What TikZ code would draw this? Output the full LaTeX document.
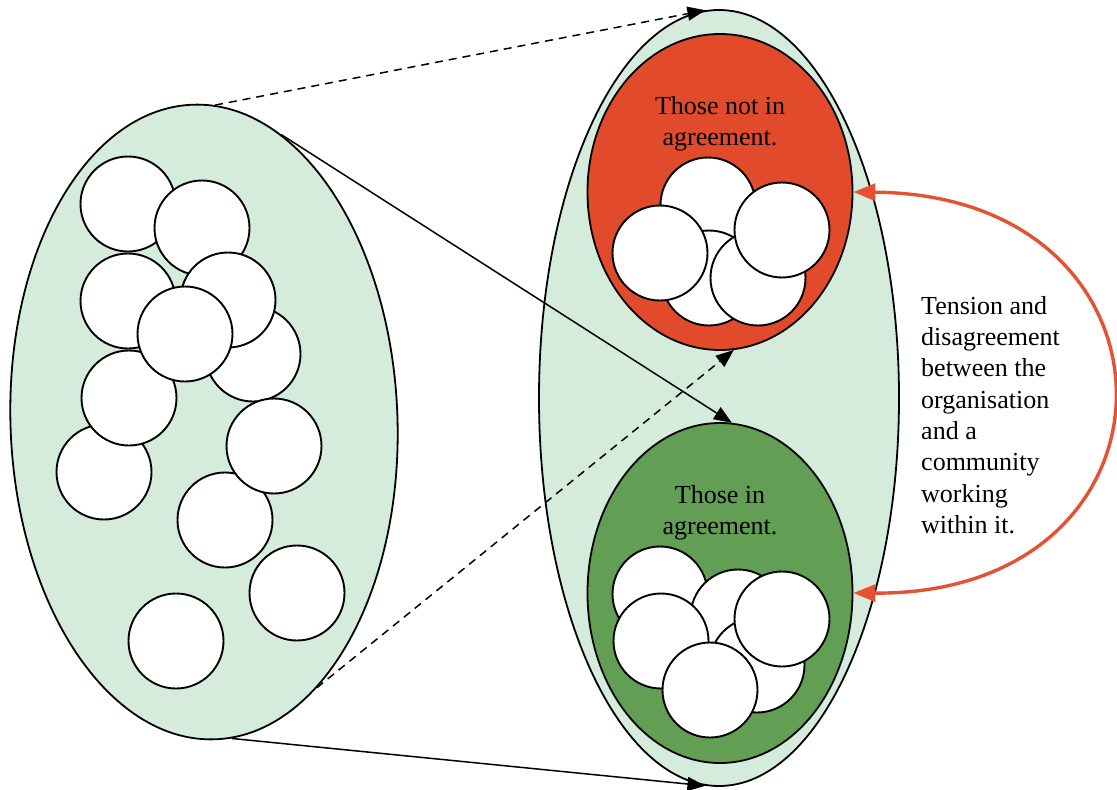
\documentclass[tikz,border=0pt]{standalone}
\usepackage{fontspec}
\setmainfont{Liberation Serif}
\usetikzlibrary{shapes.geometric,arrows.meta}
\definecolor{paleGreen}{RGB}{213,236,221}
\definecolor{dissent}{RGB}{225,74,42}
\definecolor{consent}{RGB}{98,158,84}
\definecolor{tension}{RGB}{228,82,50}
\tikzset{
  group/.style={ellipse, draw=black, line width=1.8pt, inner sep=0pt},
  member/.style={circle, draw=black, fill=white, line width=1.9pt, inner sep=0pt, minimum size=95pt},
  label/.style={font=\fontsize{26}{30.5}\selectfont, align=center, inner sep=0pt},
  tip/.style={-{Triangle[length=18pt,width=14pt]}},
  link/.style={tip, line width=1.5pt, black},
  dlink/.style={link, dash pattern=on 8pt off 6pt},
  tensionarrow/.style={{Triangle[length=22pt,width=17pt]}-{Triangle[length=22pt,width=17pt]}, draw=tension, line width=3.4pt}
}
\begin{document}
\begin{tikzpicture}[x=1pt,y=-1pt]
\useasboundingbox (0,0) rectangle (1117,790);

% outer groups
\node[group, fill=paleGreen, minimum width=360pt, minimum height=776pt] (whole) at (719,398) {};
\node[group, fill=paleGreen, minimum width=387pt, minimum height=635pt, rotate=2] (crowd) at (204,422) {};

% the crowd of individuals
\node[member] (l1)  at (128,204) {};
\node[member] (l2)  at (202,228) {};
\node[member] (l3)  at (128,301) {};
\node[member] (l5)  at (253,354) {};
\node[member] (l4)  at (228,300) {};
\node[member] (l8)  at (104,472) {};
\node[member] (l7)  at (129,398) {};
\node[member] (l6)  at (185,334) {};
\node[member] (l10) at (225,520) {};
\node[member] (l9)  at (274,446) {};
\node[member] (l11) at (297,593) {};
\node[member] (l12) at (176,641) {};

% those not in agreement
\node[group, fill=dissent, minimum width=265pt, minimum height=316pt] (against) at (720,192) {};
\node[label] (againstText) at (720,124) {Those not in\\agreement.};
\node[member] (r1) at (708,205) {};
\node[member] (r3) at (709,278) {};
\node[member] (r2) at (660,253) {};
\node[member] (r4) at (758,278) {};
\node[member] (r5) at (782,230) {};

% those in agreement
\node[group, fill=consent, minimum width=265pt, minimum height=340pt] (for) at (720,593) {};
\node[label] (forText) at (720,513) {Those in\\agreement.};
\node[member] (g1) at (660,594) {};
\node[member] (g2) at (738,617) {};
\node[member] (g5) at (757,665) {};
\node[member] (g3) at (782,619) {};
\node[member] (g4) at (661,641) {};
\node[member] (g6) at (710,690) {};

% how the crowd splits
\draw[dlink] (crowd.86) -- (whole.92);
\draw[link]  (crowd.73) -- (for.86);
\draw[dlink] (crowd.-69) -- (against.-85);
\draw[link]  (crowd.-87) -- (whole.-92);

% tension between the two parts
\draw[tensionarrow] (against.east) .. controls (1197,195) and (1197,595) .. (for.east);
\node[label, align=left, anchor=west, font=\fontsize{26}{31.3}\selectfont] (note) at (921,415)
  {Tension and\\disagreement\\between the\\organisation\\and a\\community\\working\\within it.};
\end{tikzpicture}
\end{document}
